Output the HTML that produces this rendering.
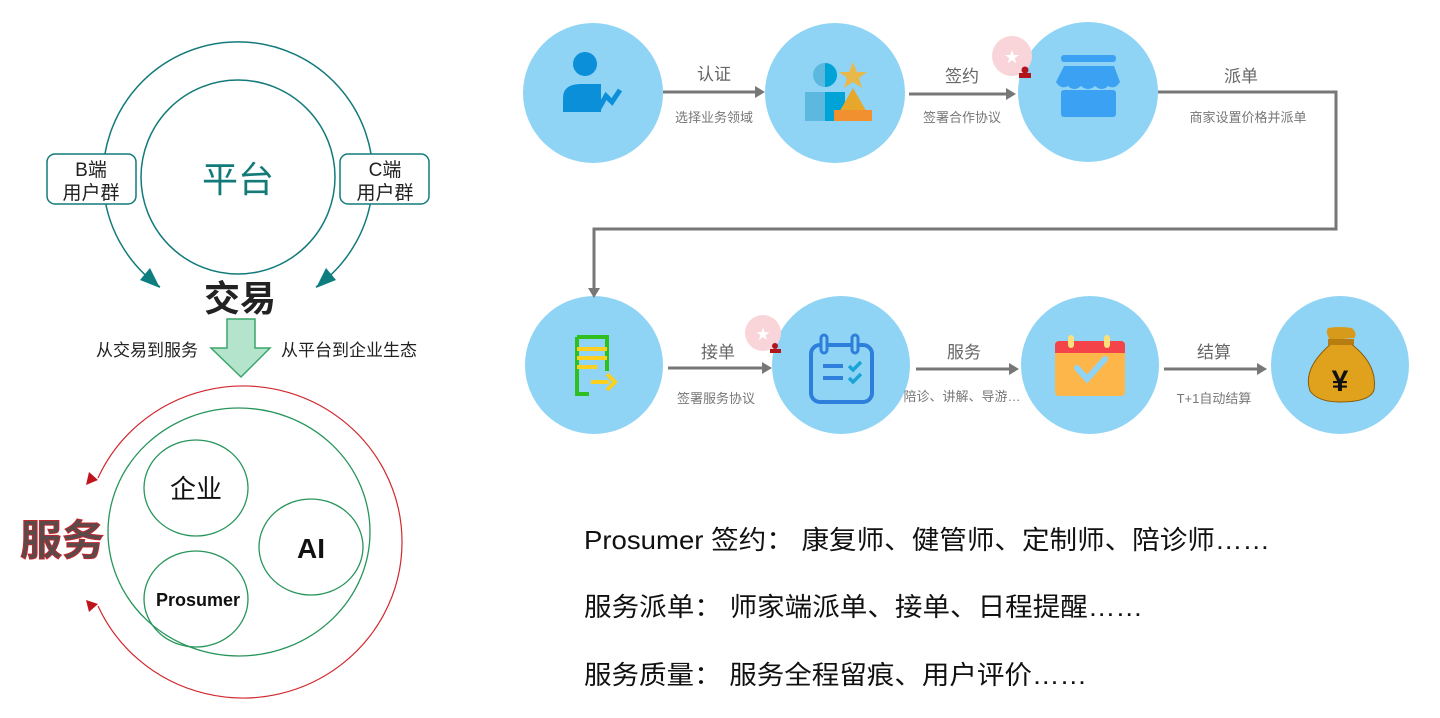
<!DOCTYPE html>
<html><head><meta charset="utf-8"><style>
html,body{margin:0;padding:0;background:#fff;}
svg{display:block;font-family:"Liberation Sans","Noto Sans CJK SC",sans-serif;}
</style></head><body>
<svg width="1440" height="718" viewBox="0 0 1440 718" xmlns="http://www.w3.org/2000/svg">
<!-- LEFT TOP -->
<path d="M160,287 A135,135 0 1 1 316,287" fill="none" stroke="#137a7a" stroke-width="1.5"/>
<polygon points="160,288 140,280 150,268" fill="#0e7d80"/>
<polygon points="316,288 336,280 326,268" fill="#0e7d80"/>
<circle cx="238" cy="177" r="97" fill="none" stroke="#137a7a" stroke-width="1.5"/>
<rect x="47" y="154" width="89" height="50" rx="8" fill="#fff" stroke="#137a7a" stroke-width="1.5"/>
<rect x="340" y="154" width="89" height="50" rx="8" fill="#fff" stroke="#137a7a" stroke-width="1.5"/>
<text x="91" y="176" font-size="19" text-anchor="middle" fill="#222">B端</text>
<text x="91" y="199" font-size="19" text-anchor="middle" fill="#222">用户群</text>
<text x="385" y="176" font-size="19" text-anchor="middle" fill="#222">C端</text>
<text x="385" y="199" font-size="19" text-anchor="middle" fill="#222">用户群</text>
<text x="238" y="192" font-size="36" text-anchor="middle" fill="#137a7a">平台</text>
<text x="240" y="311" font-size="36" font-weight="bold" text-anchor="middle" fill="#222">交易</text>
<polygon points="227,319 255,319 255,348 270,348 241,377 211,348 227,348" fill="#b4e4cc" stroke="#3aa56a" stroke-width="1.5"/>
<text x="198" y="356" font-size="17" text-anchor="end" fill="#222">从交易到服务</text>
<text x="281" y="356" font-size="17" fill="#222">从平台到企业生态</text>
<!-- LEFT BOTTOM -->
<path d="M98,478 A159,156 0 1 1 98,606" fill="none" stroke="#d0282e" stroke-width="1.2"/>
<polygon points="86,485 89,472 98,480" fill="#c0141c"/>
<polygon points="86,600 89,612 98,604" fill="#c0141c"/>
<ellipse cx="239" cy="532" rx="131" ry="124" fill="none" stroke="#27955a" stroke-width="1.3"/>
<ellipse cx="196" cy="488" rx="52" ry="48" fill="none" stroke="#27955a" stroke-width="1.3"/>
<ellipse cx="311" cy="547" rx="52" ry="48" fill="none" stroke="#27955a" stroke-width="1.3"/>
<ellipse cx="196" cy="599" rx="52" ry="48" fill="none" stroke="#27955a" stroke-width="1.3"/>
<text x="196" y="498" font-size="26" text-anchor="middle" fill="#111">企业</text>
<text x="311" y="558" font-size="28" font-weight="bold" text-anchor="middle" fill="#111">AI</text>
<text x="198" y="606" font-size="18" font-weight="bold" text-anchor="middle" fill="#111">Prosumer</text>
<text x="62" y="555" font-size="42" font-weight="bold" text-anchor="middle" fill="#5a4a4a" stroke="#c0282e" stroke-width="1">服务</text>
<!-- RIGHT FLOW -->
<g fill="#8fd4f5">
<circle cx="593" cy="93" r="70"/><circle cx="835" cy="93" r="70"/><circle cx="1088" cy="92" r="70"/>
<circle cx="594" cy="365" r="69"/><circle cx="841" cy="365" r="69"/><circle cx="1090" cy="365" r="69"/><circle cx="1340" cy="365" r="69"/>
</g>
<g stroke="#777" stroke-width="3" fill="none">
<line x1="663" y1="92" x2="757" y2="92"/>
<line x1="909" y1="94" x2="1008" y2="94"/>
<polyline points="1158,92 1336,92 1336,229 594,229 594,290"/>
<line x1="668" y1="368" x2="764" y2="368"/>
<line x1="916" y1="369" x2="1011" y2="369"/>
<line x1="1164" y1="369" x2="1259" y2="369"/>
</g>
<g fill="#777">
<polygon points="765,92 755,86 755,98"/><polygon points="1016,94 1006,88 1006,100"/>
<polygon points="594,298 588,288 600,288"/>
<polygon points="772,368 762,362 762,374"/><polygon points="1019,369 1009,363 1009,375"/><polygon points="1267,369 1257,363 1257,375"/>
</g>
<g font-size="17" fill="#666" text-anchor="middle">
<text x="714" y="80">认证</text><text x="962" y="82">签约</text><text x="1241" y="82">派单</text>
<text x="718" y="358">接单</text><text x="964" y="358">服务</text><text x="1214" y="358">结算</text>
</g>
<g font-size="13" fill="#777" text-anchor="middle">
<text x="714" y="122">选择业务领域</text><text x="962" y="122">签署合作协议</text><text x="1248" y="122">商家设置价格并派单</text>
<text x="716" y="403">签署服务协议</text><text x="962" y="401">陪诊、讲解、导游…</text><text x="1214" y="403">T+1自动结算</text>
</g>
<!-- badges -->
<circle cx="1012" cy="56" r="20" fill="#f9d5da"/><text x="1012" y="62" font-size="15" fill="#fff" text-anchor="middle">★</text>
<rect x="1019" y="73" width="12" height="5" fill="#b2151c"/><circle cx="1025" cy="70" r="3.5" fill="#b2151c"/>
<circle cx="763" cy="333" r="18" fill="#f9d5da"/><text x="763" y="339" font-size="14" fill="#fff" text-anchor="middle">★</text>
<rect x="770" y="349" width="11" height="4" fill="#b2151c"/><circle cx="775" cy="346" r="3" fill="#b2151c"/>
<!-- icon1 person -->
<circle cx="585" cy="64" r="12" fill="#0a8fd8"/>
<path d="M563,112 v-14 q0,-14 18,-14 h20 v28 z" fill="#0a8fd8"/>
<path d="M598,110 l8,-14 l6,6 l8,-12" stroke="#0a8fd8" stroke-width="5" fill="none"/>
<!-- icon2 -->
<circle cx="825" cy="75" r="12" fill="#5cb8df"/><path d="M825,63 a12,12 0 0 1 0,24z" fill="#00a3d6"/>
<rect x="805" y="92" width="22" height="29" fill="#5cb8df"/><rect x="825" y="92" width="20" height="29" fill="#00a3d6"/>
<polygon points="853,62 857,72 867,72 859,78 862,88 853,82 844,88 847,78 839,72 849,72" fill="#e8b84a"/>
<polygon points="853,88 872,121 834,121" fill="#e6a72a"/><rect x="834" y="110" width="38" height="11" fill="#f0902e"/>
<!-- icon3 store -->
<rect x="1061" y="55" width="55" height="7" rx="3" fill="#3ba1f2"/>
<path d="M1064,66 h50 l6,16 q-5,8 -12,4 q-6,6 -13,0 q-7,6 -14,0 q-7,6 -13,0 q-7,4 -12,-4z" fill="#3ba1f2"/>
<rect x="1061" y="90" width="55" height="27" rx="3" fill="#3ba1f2"/>
<!-- icon4 doc -->
<path d="M577,337 h30 v34 M589,394 h-12 v-57" stroke="#2fc01f" stroke-width="4" fill="none"/>
<g fill="#fbd01e"><rect x="577" y="347" width="30" height="4"/><rect x="577" y="356" width="30" height="4"/><rect x="577" y="365" width="20" height="4"/>
<rect x="591" y="380" width="18" height="4"/></g>
<path d="M607,374 l8,8 l-8,8" stroke="#fbd01e" stroke-width="4" fill="none"/>
<!-- icon5 calendar -->
<rect x="811" y="345" width="61" height="57" rx="9" fill="none" stroke="#2e7fdc" stroke-width="4"/>
<rect x="821" y="335" width="6" height="18" rx="3" fill="#8fd4f5" stroke="#2e7fdc" stroke-width="3"/>
<rect x="852" y="335" width="6" height="18" rx="3" fill="#8fd4f5" stroke="#2e7fdc" stroke-width="3"/>
<g stroke="#2e7fdc" stroke-width="4"><line x1="823" y1="366" x2="843" y2="366"/><line x1="823" y1="378" x2="843" y2="378"/></g>
<path d="M849,366 l4,4 l8,-8 M849,378 l4,4 l8,-8" stroke="#1aa5d8" stroke-width="3.5" fill="none"/>
<!-- icon6 -->
<rect x="1055" y="341" width="70" height="55" rx="4" fill="#fdb64a"/>
<path d="M1055,345 a4,4 0 0 1 4,-4 h62 a4,4 0 0 1 4,4 v8 h-70z" fill="#f4444a"/>
<rect x="1068" y="335" width="6" height="13" rx="3" fill="#fde07a"/><rect x="1104" y="335" width="6" height="13" rx="3" fill="#fde07a"/>
<path d="M1077,368 l10,11 l18,-20" stroke="#8fd4f5" stroke-width="6" fill="none" stroke-linecap="round"/>
<!-- icon7 money bag -->
<path d="M1330,340 q-5,-8 -2,-12 q10,-2 24,0 q6,6 2,10 z" fill="#d89a1a"/>
<path d="M1332,343 q-30,25 -22,48 q8,11 30,11 q30,0 34,-12 q4,-26 -24,-47z" fill="#e0a21d" stroke="#8a5a06" stroke-width="1"/>
<rect x="1328" y="339" width="26" height="6" fill="#b87d10"/>
<text x="1340" y="391" font-size="30" font-weight="bold" text-anchor="middle" fill="#111">¥</text>
<!-- bottom text -->
<g font-size="26" fill="#111">
<text x="584" y="549" textLength="686" lengthAdjust="spacingAndGlyphs">Prosumer 签约：  康复师、健管师、定制师、陪诊师……</text>
<text x="584" y="616" textLength="559" lengthAdjust="spacingAndGlyphs">服务派单：  师家端派单、接单、日程提醒……</text>
<text x="584" y="684" textLength="503" lengthAdjust="spacingAndGlyphs">服务质量：  服务全程留痕、用户评价……</text>
</g>
</svg>
</body></html>
